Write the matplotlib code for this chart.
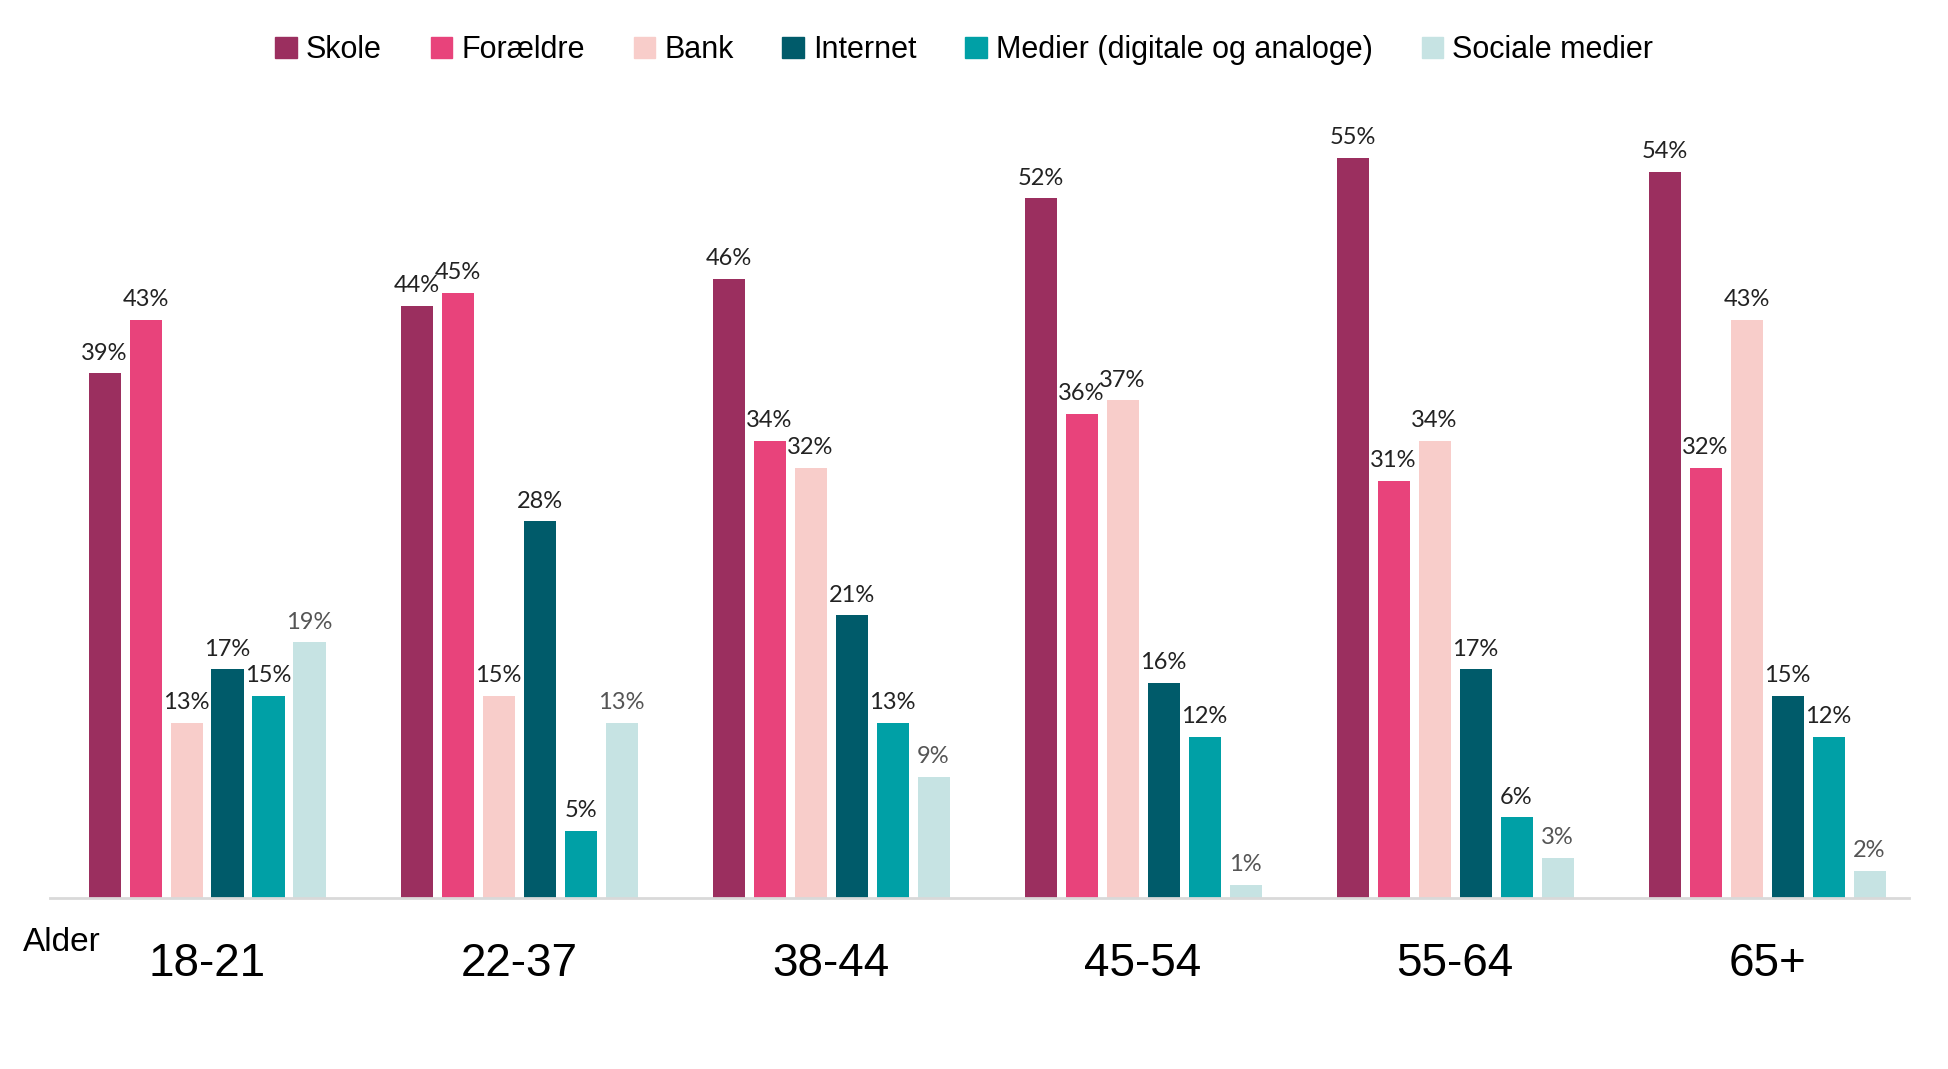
import numpy as np
import matplotlib.pyplot as plt
from matplotlib.patches import Patch

groups = ['18-21', '22-37', '38-44', '45-54', '55-64', '65+']
series = ['Skole', 'Forældre', 'Bank', 'Internet', 'Medier (digitale og analoge)', 'Sociale medier']
skole = [39, 44, 46, 52, 55, 54]
foraeldre = [43, 45, 34, 36, 31, 32]
bank = [13, 15, 32, 37, 34, 43]
internet = [17, 28, 21, 16, 17, 15]
medier = [15, 5, 13, 12, 6, 12]
sociale = [19, 13, 9, 1, 3, 2]
values = [skole, foraeldre, bank, internet, medier, sociale]
colors = ['#9B2F5F', '#E8437B', '#F8CDCA', '#005B6A', '#00A0A6', '#C6E3E3']
label_colors = ['#222222'] * 5 + ['#555555']

sans = ['Liberation Sans', 'DejaVu Sans']

fig = plt.figure(figsize=(19.48, 10.69), dpi=100)
ax = fig.add_axes([0.0257, 0.16, 0.9543, 0.755])

x = np.arange(len(groups))
step = 0.1314
width = 0.1026
for i, (vals, c) in enumerate(zip(values, colors)):
    pos = x + (i - 2.5) * step
    bars = ax.bar(pos, vals, width=width, color=c, label=series[i])
    for b, v in zip(bars, vals):
        ax.annotate(f'{v}%', (b.get_x() + b.get_width() / 2, v), xytext=(0, 7),
                    textcoords='offset points', ha='center', va='bottom',
                    fontsize=17, family='Lato', color=label_colors[i])

ax.set_xlim(-0.503, 5.455)
ax.set_ylim(0, 60)
ax.set_yticks([])
ax.set_xticks(x)
ax.set_xticklabels(groups, fontsize=33, family=sans)
ax.tick_params(axis='x', length=0, pad=32)
for s in ['top', 'left', 'right']:
    ax.spines[s].set_visible(False)
ax.spines['bottom'].set_color('#d9d9d9')
ax.spines['bottom'].set_linewidth(2)

fig.text(0.012, 0.118, 'Alder', fontsize=24, family=sans, va='center', ha='left')

handles = [Patch(color=c, label=s) for c, s in zip(colors, series)]
fig.legend(handles=handles, loc='center', bbox_to_anchor=(0.495, 0.953), ncol=6,
           frameon=False, prop={'family': sans, 'size': 22},
           handlelength=0.7, handleheight=0.7, handletextpad=0.3, columnspacing=1.6)

fig.savefig('out.png', dpi=100)
